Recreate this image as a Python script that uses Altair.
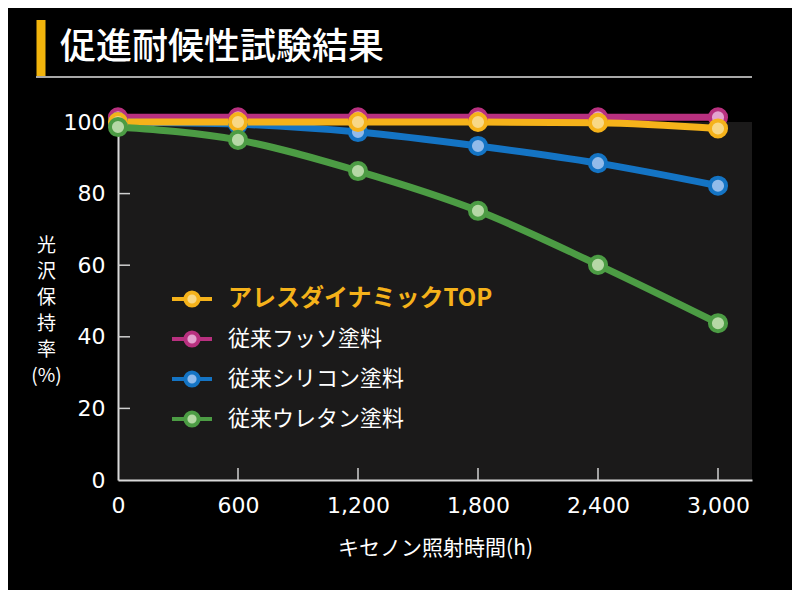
import altair as alt
import pandas as pd

# ---- data ----
hours = [0, 600, 1200, 1800, 2400, 3000]
series_names = ["アレスダイナミックTOP", "従来フッソ塗料", "従来シリコン塗料", "従来ウレタン塗料"]
ares_top = [100.0, 100.0, 100.0, 100.0, 99.8, 98.2]
fusso = [101.3, 101.3, 101.3, 101.3, 101.3, 101.3]
silicone = [100.0, 99.4, 97.2, 93.3, 88.5, 82.2]
urethane = [98.6, 95.0, 86.3, 75.2, 60.1, 43.8]
x_ticks = [600, 1200, 1800, 2400, 3000]
y_ticks = [20, 40, 60, 80]

line_colors = ["#f5b21a", "#b8307f", "#1474c4", "#4c9c44"]
fill_colors = ["#f8d886", "#e3a3cf", "#92bbea", "#b6d8a6"]

# draw order (back to front)
draw_order = [("従来フッソ塗料", fusso), ("従来シリコン塗料", silicone),
              ("アレスダイナミックTOP", ares_top), ("従来ウレタン塗料", urethane)]
rows = []
for name, vals in draw_order:
    for h, v in zip(hours, vals):
        rows.append({"series": name, "hours": h, "value": v})
df = pd.DataFrame(rows)

W, H = 634, 358
FONT = "Noto Sans CJK JP"
NUMFONT = "DejaVu Sans"

xscale = alt.Scale(domain=[0, 3170], nice=False, zero=False)
yscale = alt.Scale(domain=[0, 100], nice=False)

stroke_scale = alt.Scale(domain=series_names, range=line_colors)
fill_scale = alt.Scale(domain=series_names, range=fill_colors)

brand = series_names[0]
sym_path = ("M-1,0L-0.33,0M0.33,0L1,0M0.33,0A0.33,0.33,0,1,1,-0.33,0"
            "A0.33,0.33,0,1,1,0.33,0Z")
legend = alt.Legend(
    title=None,
    orient="none",
    legendX=52,
    legendY=155,
    symbolType=sym_path,
    symbolSize=1600,
    symbolStrokeWidth=4,
    symbolOpacity=1,
    labelFont=FONT,
    labelFontSize={"expr": f"datum.value == '{brand}' ? 24 : 22"},
    labelColor={"expr": f"datum.value == '{brand}' ? '#f5b21a' : '#ffffff'"},
    labelFontWeight={"expr": f"datum.value == '{brand}' ? 'bold' : 'normal'"},
    labelOffset=14,
    labelLimit=0,
    rowPadding=3,
)

x_enc = alt.X("hours:Q", scale=xscale, axis=alt.Axis(
    values=hours, format=",d", title="キセノン照射時間(h)", ticks=False, grid=False,
    labelFontSize=22, labelFont=NUMFONT, labelColor="#ffffff", labelPadding=15,
    labelFlush=False,
    domainColor="#d9d9d9", domainWidth=2,
    titleFont=FONT, titleFontSize=21, titleFontWeight="normal", titleColor="#ffffff",
    titleY=68, titleBaseline="middle"))
y_enc = alt.Y("value:Q", scale=yscale, axis=alt.Axis(
    values=[0, 20, 40, 60, 80, 100], ticks=False, grid=False,
    labelFontSize=22, labelFont=NUMFONT, labelColor="#ffffff", labelPadding=13,
    labelFlush=False,
    domainColor="#d9d9d9", domainWidth=2,
    title=["光", "沢", "保", "持", "率", "(%)"], titleAngle=0, titleAlign="center",
    titleBaseline="top", titleX=-72, titleY=114, titleLineHeight=26,
    titleFont=FONT, titleFontSize=19, titleFontWeight="normal", titleColor="#ffffff"))

lines = alt.Chart(df).mark_line(strokeWidth=7, interpolate="monotone").encode(
    x=x_enc, y=y_enc,
    stroke=alt.Stroke("series:N", scale=stroke_scale, legend=legend),
    detail="series:N",
)

points = alt.Chart(df).mark_point(shape="circle", filled=True, size=260,
                                  strokeWidth=4, opacity=1).encode(
    x=alt.X("hours:Q", scale=xscale),
    y=alt.Y("value:Q", scale=yscale),
    fill=alt.Fill("series:N", scale=fill_scale, legend=legend),
    stroke=alt.Stroke("series:N", scale=stroke_scale, legend=legend),
)

xt = alt.Chart(pd.DataFrame({"t": x_ticks})).mark_rule(color="#d0d0d0", strokeWidth=1.5).encode(
    x=alt.X("t:Q", scale=xscale), y=alt.value(H), y2=alt.value(H - 12))
yt = alt.Chart(pd.DataFrame({"t": y_ticks})).mark_rule(color="#d0d0d0", strokeWidth=1.5).encode(
    y=alt.Y("t:Q", scale=yscale), x=alt.value(0), x2=alt.value(12))

one = alt.Data(values=[{}])
bar = alt.Chart(one).mark_rule(color="#f2b40c", strokeWidth=9).encode(
    x=alt.value(-77), y=alt.value(-102), y2=alt.value(-46))
sep = alt.Chart(one).mark_rule(color="#a8a8a8", strokeWidth=2).encode(
    x=alt.value(-82), x2=alt.value(W), y=alt.value(-45))
title = alt.Chart(one).mark_text(text="促進耐候性試験結果", font=FONT, fontSize=36,
                                 fontWeight=500, color="#ffffff", align="left",
                                 baseline="middle").encode(
    x=alt.value(-58), y=alt.value(-74))

chart = alt.layer(bar, sep, title, xt, yt, lines, points).properties(
    width=W, height=H,
    autosize=alt.AutoSizeParams(type="none"),
    padding={"left": 110, "top": 114, "right": 40, "bottom": 110},
    background="#000000",
).configure_view(fill="#1b1a1a", stroke=None)

chart.save("out.html", embed_options={"renderer": "svg", "actions": False})
